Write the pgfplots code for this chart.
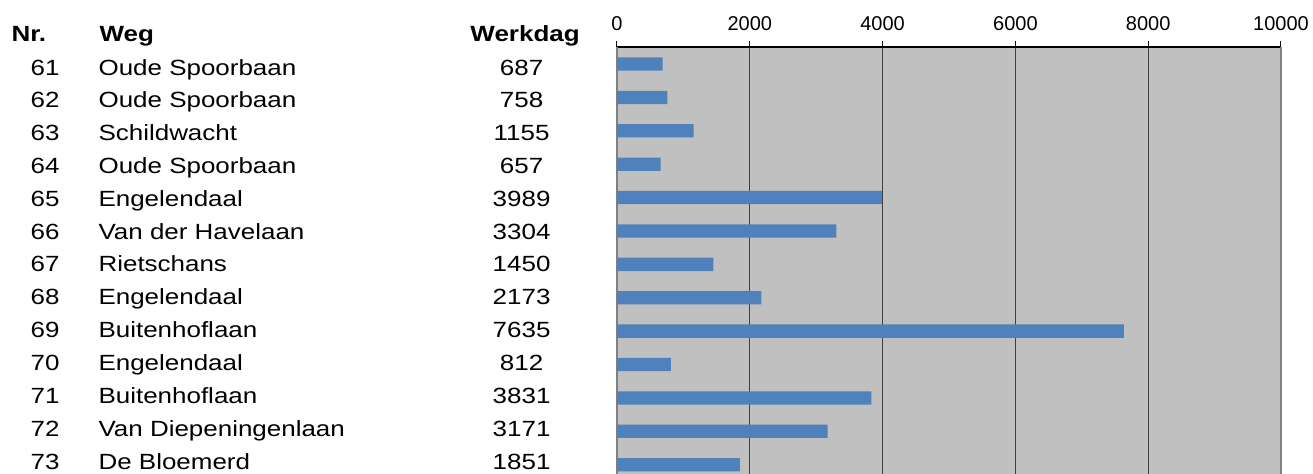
\documentclass[border=0pt]{standalone}
\usepackage{pgfplots}
\pgfplotsset{compat=1.18}
\usepackage{fontspec}
\setmainfont{Liberation Sans}
\newfontfamily\tabfont[FakeStretch=1.18]{Liberation Sans}
\definecolor{barblue}{RGB}{79,129,189}
\definecolor{plotgray}{RGB}{192,192,192}
\newcommand\row[4]{\raisebox{#1}{\tabfont\fontsize{11pt}{13pt}\selectfont\makebox[24.5pt][r]{#2}\hspace{19.5pt}\makebox[186.5pt][l]{#3}\makebox[50pt][c]{#4}\hspace{14pt}}}
\begin{document}
\begin{tikzpicture}
\begin{axis}[
  x=0.0332pt, y=16.695pt, y dir=reverse,
  xmin=0, xmax=10000, ymin=-0.51, ymax=12.6,
  axis x line*=top, axis y line*=left,
  x axis line style={draw=black, line width=0.75pt, -},
  y axis line style={draw=black!50, line width=1pt, -},
  axis background/.style={fill=plotgray},
  xtick={0,2000,4000,6000,8000},
  extra x ticks={10000},
  extra x tick style={grid style={draw=black!50, line width=1pt}},
  xmajorgrids,
  grid style={draw=black!75, line width=0.5pt},
  tick align=outside, major tick length=3pt,
  x tick style={black, line width=0.5pt},
  ytick={0,1,2,3,4,5,6,7,8,9,10,11,12},
  y tick style={draw=none},
  yticklabels={
    {\row{-5.5pt}{61}{Oude Spoorbaan}{687}},
    {\row{-5.22pt}{62}{Oude Spoorbaan}{758}},
    {\row{-4.94pt}{63}{Schildwacht}{1155}},
    {\row{-4.66pt}{64}{Oude Spoorbaan}{657}},
    {\row{-4.38pt}{65}{Engelendaal}{3989}},
    {\row{-4.10pt}{66}{Van der Havelaan}{3304}},
    {\row{-3.82pt}{67}{Rietschans}{1450}},
    {\row{-3.54pt}{68}{Engelendaal}{2173}},
    {\row{-3.26pt}{69}{Buitenhoflaan}{7635}},
    {\row{-2.98pt}{70}{Engelendaal}{812}},
    {\row{-2.71pt}{71}{Buitenhoflaan}{3831}},
    {\row{-2.43pt}{72}{Van Diepeningenlaan}{3171}},
    {\row{-2.15pt}{73}{De Bloemerd}{1851}}},
  xticklabel style={font=\fontsize{10pt}{12pt}\selectfont, anchor=base, yshift=5pt},
  yticklabel style={anchor=base east, inner sep=0pt, xshift=-5.5pt},
  /pgf/number format/assume math mode=true,
  /pgf/number format/set thousands separator={},
  scaled x ticks=false,
  clip=false,
]
\addplot[xbar, bar width=6.65pt, fill=barblue, draw=none] coordinates {
  (687,0) (758,1) (1155,2) (657,3) (3989,4) (3304,5) (1450,6)
  (2173,7) (7635,8) (812,9) (3831,10) (3171,11) (1851,12)};
\coordinate (tl) at (axis cs:0,-0.51);
\node[anchor=base east, inner sep=0pt] at ([xshift=-22pt, yshift=11.5pt]axis cs:0,0)
  {\tabfont\bfseries\fontsize{11pt}{13pt}\selectfont\makebox[24.5pt][l]{Nr.}\hspace{19.5pt}\makebox[186.5pt][l]{Weg}\makebox[50pt][c]{\hspace{2.5pt}Werkdag}\hspace{14pt}};
\end{axis}
\pgfresetboundingbox
\path[use as bounding box] ([xshift=-308.5pt,yshift=23.5pt]tl) rectangle ([xshift=348pt,yshift=-213.5pt]tl);
\end{tikzpicture}
\end{document}
